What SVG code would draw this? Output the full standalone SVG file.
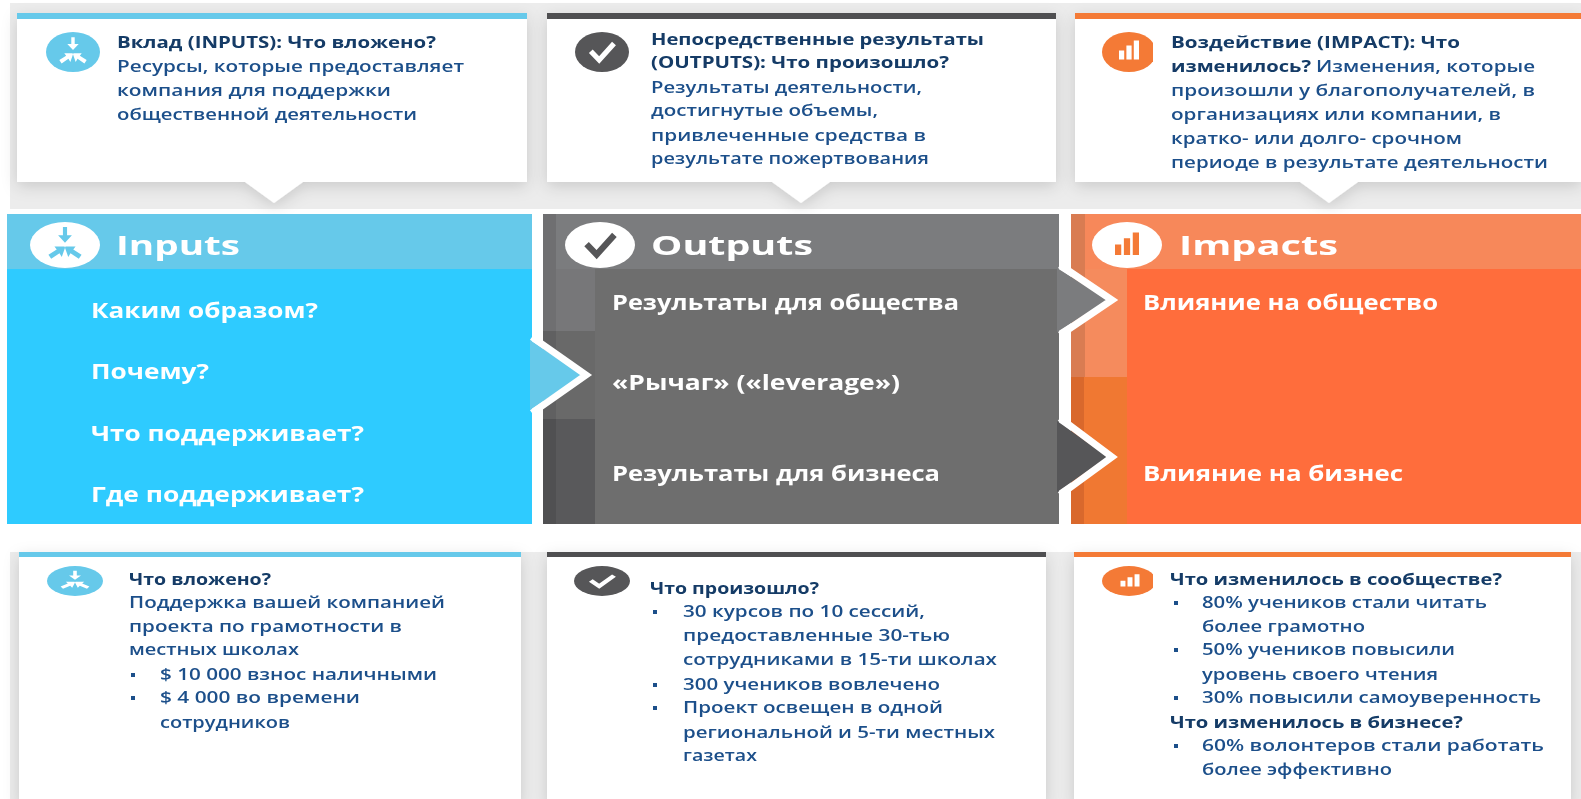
<svg xmlns="http://www.w3.org/2000/svg" width="1581" height="799" viewBox="0 0 1581 799">
<style>
text{font-family:"Open Sans","Noto Sans","DejaVu Sans",sans-serif;filter:url(#soft)}
.t{font-size:16.5px;font-weight:600;fill:#1c4f8a}
.b{font-size:16.5px;font-weight:700;fill:#123a66}
.h{font-size:27px;font-weight:700;fill:#fff}
.p{font-size:22px;font-weight:700;fill:#fff}
.card{fill:#fff;filter:url(#shadow)}
.chev{fill:none;stroke:#fff;stroke-width:7}
.ic{fill:currentColor}
</style>
<defs>
<filter id="soft" x="-5%" y="-30%" width="110%" height="160%"><feGaussianBlur stdDeviation="0.45"/></filter>
<filter id="shadow" x="-5%" y="-10%" width="110%" height="125%"><feDropShadow dx="0" dy="4" stdDeviation="8" flood-color="#000" flood-opacity="0.15"/></filter>
<g id="i-in"><path class="ic" d="M-.09-.78H.09V-.42H.3L0,-.1-.3-.42H-.09ZM-.72.42-.6.6-.24.36-.14.52.02.06-.46.06-.36.2ZM.72.42.6.6.24.36.14.52-.02.06.46.06.36.2Z"/></g>
<g id="i-ck"><path d="M-.56-.04-.14.4.6-.42" fill="none" stroke="currentColor" stroke-width=".26"/></g>
<g id="i-br"><path class="ic" d="M-.5-.02H-.24V.42H-.5ZM-.13-.28H.13V.42H-.13ZM.24-.52H.5V.42H.24Z"/></g>
<clipPath id="clipA"><rect x="1100" y="25" width="53" height="55"/></clipPath>
<clipPath id="clipB"><rect x="1100" y="560" width="53" height="42"/></clipPath>
</defs>
<rect width="1581" height="799" fill="#fff"/>
<rect x="10" y="3" width="1571" height="206" fill="#ececec"/>
<rect x="10" y="552" width="1571" height="247" fill="#ececec"/>

<g id="card-top-inputs">
<path class="card" d="M17 14H527V182H303L274 203 245 182H17Z"/>
<rect x="17" y="13" width="510" height="6" fill="#66c9ea"/>
<ellipse cx="73" cy="52" rx="27" ry="20" fill="#66c9ea"/><use href="#i-in" transform="translate(73 52) scale(19)" color="#fff"/>
<text class="b" x="117" y="48" textLength="319" lengthAdjust="spacingAndGlyphs">Вклад (INPUTS): Что вложено?</text>
<text class="t" x="117" y="72" textLength="347" lengthAdjust="spacingAndGlyphs">Ресурсы, которые предоставляет</text>
<text class="t" x="117" y="96" textLength="274" lengthAdjust="spacingAndGlyphs">компания для поддержки</text>
<text class="t" x="117" y="120" textLength="300" lengthAdjust="spacingAndGlyphs">общественной деятельности</text>
</g>
<g id="card-top-outputs">
<path class="card" d="M547 14H1056V182H830L801 203 772 182H547Z"/>
<rect x="547" y="13" width="509" height="6" fill="#4f4f51"/>
<ellipse cx="602" cy="52" rx="27" ry="20" fill="#565658"/><use href="#i-ck" transform="translate(602 52) scale(20)" color="#fff"/>
<text class="b" x="651" y="45" textLength="333" lengthAdjust="spacingAndGlyphs">Непосредственные результаты</text>
<text class="b" x="651" y="68" textLength="298" lengthAdjust="spacingAndGlyphs">(OUTPUTS): Что произошло?</text>
<text class="t" x="651" y="93" textLength="271" lengthAdjust="spacingAndGlyphs">Результаты деятельности,</text>
<text class="t" x="651" y="116" textLength="227" lengthAdjust="spacingAndGlyphs">достигнутые объемы,</text>
<text class="t" x="651" y="141" textLength="275" lengthAdjust="spacingAndGlyphs">привлеченные средства в</text>
<text class="t" x="651" y="164" textLength="278" lengthAdjust="spacingAndGlyphs">результате пожертвования</text>
</g>
<g id="card-top-impacts">
<path class="card" d="M1075 14H1581V182H1358L1329 203 1300 182H1075Z"/>
<rect x="1075" y="13" width="506" height="6" fill="#f47a36"/>
<ellipse cx="1129" cy="52" rx="27" ry="20" fill="#f47a36" clip-path="url(#clipA)"/>
<use href="#i-br" transform="translate(1129 51) scale(20)" color="#fff"/>
<text class="b" x="1171" y="48" textLength="289" lengthAdjust="spacingAndGlyphs">Воздействие (IMPACT): Что</text>
<text class="b" x="1171" y="72" textLength="140" lengthAdjust="spacingAndGlyphs">изменилось?</text>
<text class="t" x="1316" y="72" textLength="219" lengthAdjust="spacingAndGlyphs">Изменения, которые</text>
<text class="t" x="1171" y="96" textLength="364" lengthAdjust="spacingAndGlyphs">произошли у благополучателей, в</text>
<text class="t" x="1171" y="120" textLength="330" lengthAdjust="spacingAndGlyphs">организациях или компании, в</text>
<text class="t" x="1171" y="144" textLength="291" lengthAdjust="spacingAndGlyphs">кратко- или долго- срочном</text>
<text class="t" x="1171" y="168" textLength="377" lengthAdjust="spacingAndGlyphs">периоде в результате деятельности</text>
</g>

<g id="panel-inputs">
<rect x="7" y="214" width="525" height="310" fill="#2ecbff"/>
<rect x="7" y="214" width="525" height="55" fill="#66c9ea"/>
<ellipse cx="65" cy="245" rx="35" ry="23" fill="#fff"/><use href="#i-in" transform="translate(65 245) scale(23)" color="#66c9ea"/>
<text class="h" x="116" y="255" textLength="124" lengthAdjust="spacingAndGlyphs">Inputs</text>
<text class="p" x="91" y="318" textLength="227" lengthAdjust="spacingAndGlyphs">Каким образом?</text>
<text class="p" x="91" y="379" textLength="118" lengthAdjust="spacingAndGlyphs">Почему?</text>
<text class="p" x="91" y="441" textLength="273" lengthAdjust="spacingAndGlyphs">Что поддерживает?</text>
<text class="p" x="91" y="502" textLength="273" lengthAdjust="spacingAndGlyphs">Где поддерживает?</text>
</g>
<g id="panel-outputs">
<rect x="543" y="214" width="516" height="310" fill="#6e6e6e"/>
<rect x="543" y="214" width="516" height="55" fill="#7b7c7e"/>
<rect x="543" y="214" width="13" height="117" fill="#6f6f71"/>
<rect x="556" y="269" width="39" height="62" fill="#777779"/>
<rect x="543" y="331" width="52" height="88" fill="#696969"/>
<rect x="543" y="331" width="13" height="88" fill="#606061"/>
<rect x="543" y="419" width="52" height="105" fill="#59595b"/>
<rect x="543" y="419" width="13" height="105" fill="#505052"/>
<ellipse cx="600" cy="245" rx="35" ry="23" fill="#fff"/><use href="#i-ck" transform="translate(600 245) scale(24)" color="#565658"/>
<text class="h" x="651" y="255" textLength="162" lengthAdjust="spacingAndGlyphs">Outputs</text>
<text class="p" x="612" y="310" textLength="347" lengthAdjust="spacingAndGlyphs">Результаты для общества</text>
<text class="p" x="612" y="390" textLength="288" lengthAdjust="spacingAndGlyphs">«Рычаг» («leverage»)</text>
<text class="p" x="612" y="481" textLength="328" lengthAdjust="spacingAndGlyphs">Результаты для бизнеса</text>
</g>
<g id="panel-impacts">
<rect x="1071" y="214" width="510" height="310" fill="#ff6d3c"/>
<rect x="1071" y="214" width="510" height="55" fill="#f7885a"/>
<rect x="1071" y="269" width="56" height="108" fill="#f58b5d"/>
<rect x="1071" y="214" width="14" height="163" fill="#d97c52"/>
<rect x="1071" y="377" width="56" height="147" fill="#f07832"/>
<rect x="1071" y="377" width="13" height="147" fill="#d9682c"/>
<ellipse cx="1127" cy="245" rx="35" ry="23" fill="#fff"/><use href="#i-br" transform="translate(1127 245) scale(24)" color="#f47a36"/>
<text class="h" x="1179" y="255" textLength="159" lengthAdjust="spacingAndGlyphs">Impacts</text>
<text class="p" x="1143" y="310" textLength="295" lengthAdjust="spacingAndGlyphs">Влияние на общество</text>
<text class="p" x="1143" y="481" textLength="260" lengthAdjust="spacingAndGlyphs">Влияние на бизнес</text>
</g>

<g id="connectors">
<path d="M530 340 583 375 530 410Z" fill="#66c9ea"/>
<path class="chev" d="M532 337 586 375 532 413"/>
<path d="M1057 268 1108 300 1057 332Z" fill="#7b7c7e"/>
<path class="chev" d="M1060 265 1112 300 1060 335"/>
<path d="M1057 421 1108 457 1057 492Z" fill="#565658"/>
<path class="chev" d="M1060 418 1112 457 1060 495"/>
</g>

<g id="card-bottom-inputs">
<rect class="card" x="19" y="553" width="502" height="250"/>
<rect x="19" y="552" width="502" height="5" fill="#66c9ea"/>
<ellipse cx="75" cy="581" rx="28" ry="15" fill="#66c9ea"/><use href="#i-in" transform="translate(75 581) scale(20 13)" color="#fff"/>
<text class="b" x="129" y="585" textLength="142" lengthAdjust="spacingAndGlyphs">Что вложено?</text>
<text class="t" x="129" y="608" textLength="316" lengthAdjust="spacingAndGlyphs">Поддержка вашей компанией</text>
<text class="t" x="129" y="632" textLength="273" lengthAdjust="spacingAndGlyphs">проекта по грамотности в</text>
<text class="t" x="129" y="655" textLength="170" lengthAdjust="spacingAndGlyphs">местных школах</text>
<rect x="131" y="673" width="4" height="4" fill="#1c4f8a"/>
<text class="t" x="160" y="680" textLength="277" lengthAdjust="spacingAndGlyphs">$ 10 000 взнос наличными</text>
<rect x="131" y="696" width="4" height="4" fill="#1c4f8a"/>
<text class="t" x="160" y="703" textLength="200" lengthAdjust="spacingAndGlyphs">$ 4 000 во времени</text>
<text class="t" x="160" y="728" textLength="130" lengthAdjust="spacingAndGlyphs">сотрудников</text>
</g>
<g id="card-bottom-outputs">
<rect class="card" x="547" y="553" width="499" height="250"/>
<rect x="547" y="552" width="499" height="5" fill="#4f4f51"/>
<ellipse cx="602" cy="581" rx="28" ry="15" fill="#565658"/><use href="#i-ck" transform="translate(602 581) scale(20 13)" color="#fff"/>
<text class="b" x="650" y="594" textLength="169" lengthAdjust="spacingAndGlyphs">Что произошло?</text>
<rect x="653" y="610" width="4" height="4" fill="#1c4f8a"/>
<text class="t" x="683" y="617" textLength="242" lengthAdjust="spacingAndGlyphs">30 курсов по 10 сессий,</text>
<text class="t" x="683" y="641" textLength="267" lengthAdjust="spacingAndGlyphs">предоставленные 30-тью</text>
<text class="t" x="683" y="665" textLength="314" lengthAdjust="spacingAndGlyphs">сотрудниками в 15-ти школах</text>
<rect x="653" y="683" width="4" height="4" fill="#1c4f8a"/>
<text class="t" x="683" y="690" textLength="257" lengthAdjust="spacingAndGlyphs">300 учеников вовлечено</text>
<rect x="653" y="706" width="4" height="4" fill="#1c4f8a"/>
<text class="t" x="683" y="713" textLength="260" lengthAdjust="spacingAndGlyphs">Проект освещен в одной</text>
<text class="t" x="683" y="738" textLength="312" lengthAdjust="spacingAndGlyphs">региональной и 5-ти местных</text>
<text class="t" x="683" y="761" textLength="74" lengthAdjust="spacingAndGlyphs">газетах</text>
</g>
<g id="card-bottom-impacts">
<rect class="card" x="1074" y="553" width="497" height="250"/>
<rect x="1074" y="552" width="497" height="5" fill="#f47a36"/>
<ellipse cx="1129" cy="581" rx="27" ry="15" fill="#f47a36" clip-path="url(#clipB)"/><use href="#i-br" transform="translate(1130 581) scale(19 13)" color="#fff"/>
<text class="b" x="1170" y="585" textLength="332" lengthAdjust="spacingAndGlyphs">Что изменилось в сообществе?</text>
<rect x="1174" y="601" width="4" height="4" fill="#1c4f8a"/>
<text class="t" x="1202" y="608" textLength="285" lengthAdjust="spacingAndGlyphs">80% учеников стали читать</text>
<text class="t" x="1202" y="632" textLength="163" lengthAdjust="spacingAndGlyphs">более грамотно</text>
<rect x="1174" y="648" width="4" height="4" fill="#1c4f8a"/>
<text class="t" x="1202" y="655" textLength="253" lengthAdjust="spacingAndGlyphs">50% учеников повысили</text>
<text class="t" x="1202" y="680" textLength="236" lengthAdjust="spacingAndGlyphs">уровень своего чтения</text>
<rect x="1174" y="696" width="4" height="4" fill="#1c4f8a"/>
<text class="t" x="1202" y="703" textLength="339" lengthAdjust="spacingAndGlyphs">30% повысили самоуверенность</text>
<text class="b" x="1170" y="728" textLength="293" lengthAdjust="spacingAndGlyphs">Что изменилось в бизнесе?</text>
<rect x="1174" y="744" width="4" height="4" fill="#1c4f8a"/>
<text class="t" x="1202" y="751" textLength="342" lengthAdjust="spacingAndGlyphs">60% волонтеров стали работать</text>
<text class="t" x="1202" y="775" textLength="190" lengthAdjust="spacingAndGlyphs">более эффективно</text>
</g>
</svg>
